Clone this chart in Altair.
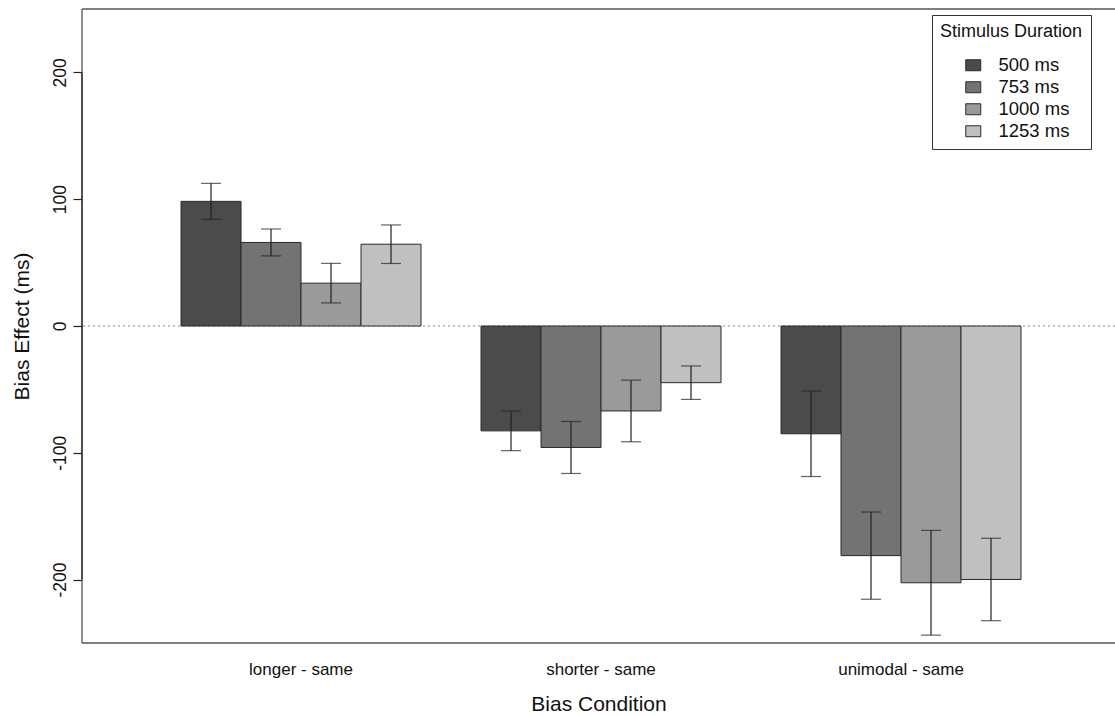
import altair as alt
import pandas as pd

# Bias conditions (groups on the x axis) and stimulus durations (bars within a group)
conditions = ["longer - same", "shorter - same", "unimodal - same"]
durations = ["500 ms", "753 ms", "1000 ms", "1253 ms"]
fills = ["#4b4b4b", "#737373", "#9a9a9a", "#c0c0c0"]

# Mean bias effect (ms) per duration, one list per condition
mean_longer = [98.3, 65.9, 33.8, 64.5]
mean_shorter = [-82.7, -95.8, -67.0, -44.7]
mean_unimodal = [-85.0, -181.1, -202.5, -199.9]

# Standard errors (ms)
se_longer = [14.2, 10.6, 15.6, 15.2]
se_shorter = [15.6, 20.5, 24.3, 13.2]
se_unimodal = [33.7, 34.4, 41.3, 32.5]

y_ticks = [-200, -100, 0, 100, 200]
y_range = [-250, 250]

W, H = 1033, 634
FONT = "Liberation Sans"

rows = []
for cond, means, ses in zip(conditions,
                            [mean_longer, mean_shorter, mean_unimodal],
                            [se_longer, se_shorter, se_unimodal]):
    for dur, m, s in zip(durations, means, ses):
        rows.append({"condition": cond, "duration": dur, "mean": m,
                     "lo": m - s, "hi": m + s})
df = pd.DataFrame(rows)

x_enc = alt.X(
    "condition:N",
    sort=conditions,
    scale=alt.Scale(paddingInner=0.2, paddingOuter=0.3217, align=0.513),
    axis=alt.Axis(
        title="Bias Condition", ticks=False, domain=False, labelAngle=0,
        labelFontSize=17, labelColor="#111", labelPadding=18,
        titleFontSize=21, titleFontWeight="normal", titleColor="#111",
        titleBaseline="alphabetic", titleY=67,
    ),
)
xoff_enc = alt.XOffset("duration:N", sort=durations,
                       scale=alt.Scale(paddingInner=0, paddingOuter=0))

y_scale = alt.Scale(domain=y_range, nice=False, zero=False)
y_axis = alt.Axis(
    title="Bias Effect (ms)", values=y_ticks, grid=False, domain=False,
    labelExpr="toString(datum.value)",
    tickSize=9, tickColor="#222", tickWidth=1.2, labelAngle=270,
    labelAlign="center", labelBaseline="alphabetic", labelPadding=8,
    labelFontSize=17.5, labelColor="#111", titleFontSize=21,
    titleFontWeight="normal", titleColor="#111", titleAngle=270,
    titleBaseline="alphabetic", titleX=-54, titleY=H / 2,
)

legend = alt.Legend(
    orient="none", legendX=850, legendY=6,
    title="Stimulus Duration", titleFontSize=18, titleFontWeight="normal",
    titleColor="#111", titleFont=FONT, titlePadding=15,
    labelFontSize=18.5, labelColor="#111", labelFont=FONT, labelOffset=16,
    symbolType="M-1,-0.733H1V0.733H-1Z", symbolSize=225,
    symbolStrokeColor="#2a2a2a", symbolStrokeWidth=1, symbolOpacity=1,
    symbolOffset=24, rowPadding=3, padding=8,
    strokeColor="#333", fillColor="white",
)

base = alt.Chart(df)

bars = base.mark_bar(stroke="#2a2a2a", strokeWidth=1).encode(
    x=x_enc,
    xOffset=xoff_enc,
    y=alt.Y("mean:Q", scale=y_scale, axis=y_axis),
    color=alt.Color("duration:N", sort=durations,
                    scale=alt.Scale(domain=durations, range=fills),
                    legend=legend),
)

whiskers = base.mark_rule(color="#222", strokeWidth=1.2).encode(
    x=x_enc, xOffset=xoff_enc,
    y=alt.Y("lo:Q", scale=y_scale, axis=y_axis), y2="hi:Q",
)
cap_lo = base.mark_tick(color="#222", thickness=1.2, size=20,
                        orient="horizontal").encode(
    x=x_enc, xOffset=xoff_enc, y=alt.Y("lo:Q", scale=y_scale, axis=y_axis))
cap_hi = base.mark_tick(color="#222", thickness=1.2, size=20,
                        orient="horizontal").encode(
    x=x_enc, xOffset=xoff_enc, y=alt.Y("hi:Q", scale=y_scale, axis=y_axis))

# dotted reference line at zero
zero_line = alt.Chart(pd.DataFrame({"v": [0]})).mark_rule(
    color="#888", strokeDash=[2, 3], strokeWidth=1
).encode(y=alt.Y("v:Q", scale=y_scale, axis=y_axis))

# y axis line spanning the labelled ticks only
axis_line = alt.Chart(pd.DataFrame({"a": [min(y_ticks)], "b": [max(y_ticks)]})).mark_rule(
    color="#222", strokeWidth=1.2
).encode(x=alt.value(0), y=alt.Y("a:Q", scale=y_scale, axis=y_axis), y2="b:Q")

# plot frame (top, bottom, left)
one = pd.DataFrame({"k": [0]})
frame_top = alt.Chart(one).mark_rule(color="#555", strokeWidth=1.3).encode(
    x=alt.value(0), x2=alt.value(W), y=alt.value(0))
frame_bottom = alt.Chart(one).mark_rule(color="#555", strokeWidth=1.3).encode(
    x=alt.value(0), x2=alt.value(W), y=alt.value(H))
frame_left = alt.Chart(one).mark_rule(color="#555", strokeWidth=1.3).encode(
    x=alt.value(0), y=alt.value(0), y2=alt.value(H))

chart = alt.layer(
    zero_line, bars, whiskers, cap_lo, cap_hi,
    frame_top, frame_bottom, frame_left, axis_line,
).properties(
    width=W, height=H,
    padding={"left": 82, "top": 9, "right": 0, "bottom": 73},
    autosize=alt.AutoSizeParams(type="none"),
    background="white",
).configure(font=FONT).configure_view(stroke=None)

chart.save("out.html", embed_options={"renderer": "svg", "actions": False})
